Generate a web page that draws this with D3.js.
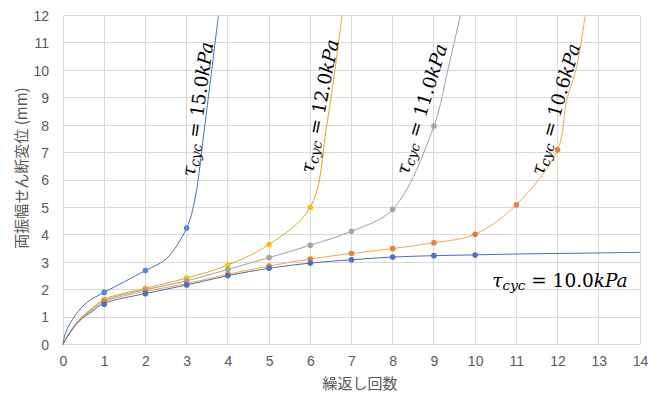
<!DOCTYPE html>
<html><head><meta charset="utf-8">
<script src="https://cdn.jsdelivr.net/npm/d3@7"></script>
<style>body{margin:0;background:#fff}svg{display:block}</style>
</head><body>
<svg id="c" width="648" height="396"></svg>
<script>
// ---- data ----
const xTicks = d3.range(0, 15);
const yTicks = d3.range(0, 13);
const xTitle = "繰返し回数";
const yTitle = "両振幅せん断変位 (mm)";

// measured points (cycle, displacement)
const cyc150 = [1, 2, 3];
const val150 = [1.9, 2.7, 4.25];
const cyc120 = [1, 2, 3, 4, 5, 6];
const val120 = [1.65, 2.05, 2.42, 2.9, 3.65, 5.0];
const cyc110 = [1, 2, 3, 4, 5, 6, 7, 8, 9];
const val110 = [1.6, 2.0, 2.32, 2.74, 3.17, 3.62, 4.13, 4.93, 7.97];
const cyc106 = [1, 2, 3, 4, 5, 6, 7, 8, 9, 10, 11, 12];
const val106 = [1.56, 1.94, 2.22, 2.56, 2.86, 3.12, 3.32, 3.5, 3.71, 4.02, 5.1, 7.1];
const cyc100 = [1, 2, 3, 4, 5, 6, 7, 8, 9, 10];
const val100 = [1.47, 1.85, 2.17, 2.51, 2.78, 2.97, 3.09, 3.19, 3.24, 3.26];

// smoothed curve paths (x, y)
const curve150 = [[0,0],[0.06,0.42],[0.3,1.07],[0.6,1.56],[1,1.9],[2,2.7],[2.5,3.12],[3,4.25],[3.2,5.3],[3.45,8.1],[3.77,12]];
const curve120 = [[0,0],[0.13,0.36],[0.4,0.92],[0.7,1.32],[1,1.65],[2,2.05],[3,2.42],[4,2.9],[5,3.65],[6,5.0],[6.4,8.0],[6.77,12]];
const curve110 = [[0,0],[0.13,0.36],[0.4,0.9],[0.7,1.28],[1,1.6],[2,2.0],[3,2.32],[4,2.74],[5,3.17],[6,3.62],[7,4.13],[8,4.93],[9,7.97],[9.35,10.1],[9.64,12]];
const curve106 = [[0,0],[0.13,0.36],[0.4,0.88],[0.7,1.25],[1,1.56],[2,1.94],[3,2.22],[4,2.56],[5,2.86],[6,3.12],[7,3.32],[8,3.5],[9,3.71],[10,4.02],[11,5.1],[12,7.1],[12.22,8.9],[12.46,10.1],[12.67,12]];
const curve100 = [[0,0],[0.13,0.34],[0.4,0.86],[0.7,1.2],[1,1.5],[2,1.86],[3,2.17],[4,2.51],[5,2.78],[6,2.97],[7,3.09],[8,3.19],[9,3.24],[10,3.27],[11,3.3],[12,3.32],[13,3.34],[14,3.36]];

const labels = ["15.0", "12.0", "11.0", "10.6", "10.0"];

// ---- layout ----
const svg = d3.select("#c");
const L = 63, R = 640, T = 15.5, B = 344.5;
const x = d3.scaleLinear().domain([0, 14]).range([L, R]);
const y = d3.scaleLinear().domain([0, 12]).range([B, T]);

const g = svg.append("g");
g.append("g").selectAll("line").data(xTicks).join("line")
  .attr("x1", d => x(d)).attr("x2", d => x(d)).attr("y1", T).attr("y2", B)
  .attr("stroke", "#d9d9d9").attr("stroke-width", 1).attr("shape-rendering","crispEdges");
g.append("g").selectAll("line").data(yTicks).join("line")
  .attr("x1", L).attr("x2", R).attr("y1", d => y(d)).attr("y2", d => y(d))
  .attr("stroke", "#d9d9d9").attr("stroke-width", 1).attr("shape-rendering","crispEdges");

const ax = svg.append("g").attr("transform", `translate(0,${B})`)
  .call(d3.axisBottom(x).tickValues(xTicks).tickSize(0).tickPadding(12).tickFormat(d3.format("d")));
const ay = svg.append("g").attr("transform", `translate(${L},0)`)
  .call(d3.axisLeft(y).tickValues(yTicks).tickSize(0).tickPadding(14).tickFormat(d3.format("d")));
[ax, ay].forEach(a => {
  a.select(".domain").remove();
  a.selectAll("text").attr("font-family", "Liberation Sans, Arial, sans-serif")
    .attr("font-size", 14).attr("fill", "#595959");
});
ay.selectAll("text").attr("dy", "0.35em");

svg.append("text").attr("x", 360).attr("y", 389).attr("text-anchor", "middle")
  .attr("font-family", "Noto Sans CJK JP, sans-serif").attr("font-size", 15).attr("fill", "#595959")
  .text(xTitle);
svg.append("text").attr("transform", "translate(20,168) rotate(-90)").attr("text-anchor", "middle")
  .attr("font-family", "Noto Sans CJK JP, sans-serif").attr("font-size", 15).attr("fill", "#595959")
  .attr("dominant-baseline", "central")
  .text(yTitle);

const series = [
  {curve: curve150, cx: cyc150, cy: val150, line: "#4a6db8", mark: "#4a8ad8"},
  {curve: curve120, cx: cyc120, cy: val120, line: "#e0a81c", mark: "#ffc000"},
  {curve: curve110, cx: cyc110, cy: val110, line: "#a0a0a0", mark: "#a5a5a5"},
  {curve: curve106, cx: cyc106, cy: val106, line: "#f7a643", mark: "#ed7d31"},
  {curve: curve100, cx: cyc100, cy: val100, line: "#4a6db8", mark: "#4472c4"}
];
const lineGen = d3.line().x(d => x(d[0])).y(d => y(d[1])).curve(d3.curveCatmullRom.alpha(0.5));
const plot = svg.append("g");
series.forEach(s => {
  plot.append("path").attr("d", lineGen(s.curve)).attr("fill", "none")
    .attr("stroke", s.line).attr("stroke-width", 1);
});
series.forEach(s => {
  plot.append("g").selectAll("circle").data(s.cx.map((c, i) => [c, s.cy[i]])).join("circle")
    .attr("cx", d => x(d[0])).attr("cy", d => y(d[1])).attr("r", 2.8).attr("fill", s.mark);
});

const labelPos = [
  {x: 197, y: 109, a: -82},
  {x: 319, y: 106, a: -79},
  {x: 421, y: 109, a: -73},
  {x: 555, y: 109, a: -74},
  {x: 560, y: 280, a: 0}
];
labels.forEach((lab, i) => {
  const p = labelPos[i];
  const t = svg.append("text").attr("transform", `translate(${p.x},${p.y}) rotate(${p.a})`)
    .attr("text-anchor", "middle").attr("dominant-baseline", "central")
    .attr("font-family", "DejaVu Serif, serif").attr("font-size", 18.5).attr("fill", "#000");
  t.append("tspan").attr("font-style", "italic").text("τ");
  t.append("tspan").attr("font-style", "italic").attr("font-size", 13.5).attr("dy", 5).text("cyc");
  t.append("tspan").attr("dy", -5).text(" = " + lab);
  t.append("tspan").attr("font-style", "italic").text("kPa");
});
</script>
</body></html>
